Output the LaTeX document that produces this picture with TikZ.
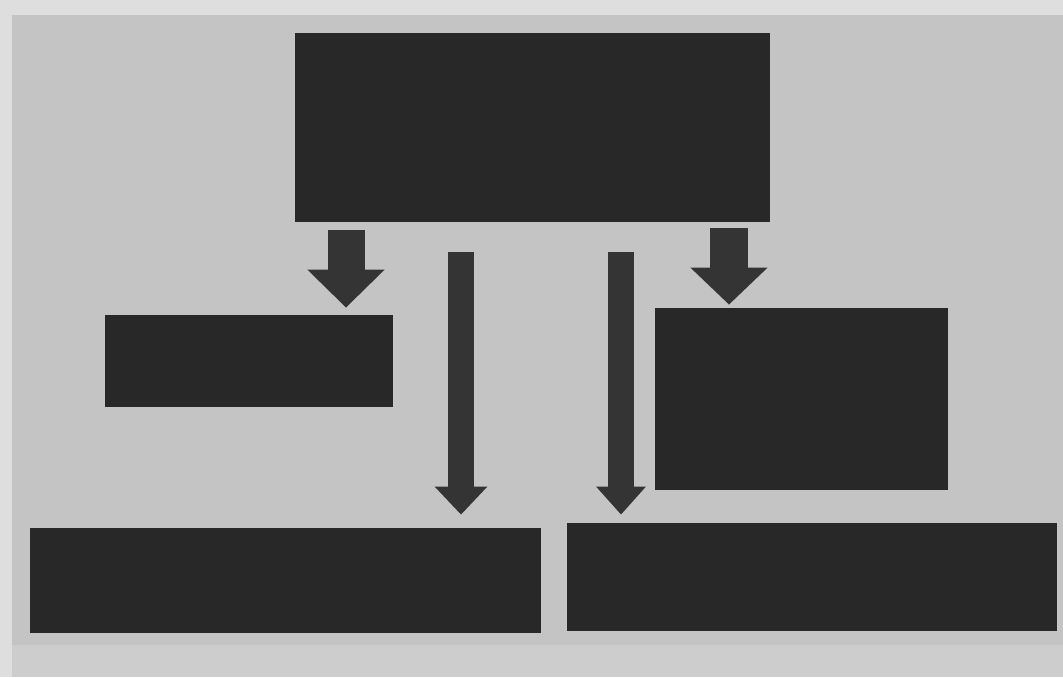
\documentclass[tikz,border=0pt]{standalone}
\usetikzlibrary{arrows.meta}
\definecolor{bg}{RGB}{196,196,196}
\definecolor{bgedge}{RGB}{222,222,222}
\definecolor{bglow}{RGB}{205,205,205}
\definecolor{boxc}{RGB}{40,40,40}
\definecolor{arrc}{RGB}{52,52,52}
\tikzset{
  darkbox/.style={rectangle, fill=boxc, draw=none, inner sep=0pt},
  barrow/.style n args={3}{draw=arrc, line width=#1, -{Triangle[width=#2,length=#3]}, arrc}
}
\begin{document}
\begin{tikzpicture}[x=0.5pt,y=-0.5pt]
\useasboundingbox (0,0) rectangle (1063,677);
\fill[bgedge] (0,0) rectangle (1063,677);
\fill[bglow] (12,640) rectangle (1063,677);
\fill[bg] (12,15) rectangle (1063,645);
% boxes
\node[darkbox, minimum width=237.5pt, minimum height=94.5pt] (top) at (532.5,127.5) {};
\node[darkbox, minimum width=144pt, minimum height=46pt] (lm) at (249,361) {};
\node[darkbox, minimum width=146.5pt, minimum height=91pt] (rm) at (801.5,399) {};
\node[darkbox, minimum width=255.5pt, minimum height=52.5pt] (bl) at (285.5,580.5) {};
\node[darkbox, minimum width=245pt, minimum height=54pt] (br) at (812,577) {};
% arrow x positions
\coordinate (a1) at (346,0);
\coordinate (a2) at (461,0);
\coordinate (a3) at (621,0);
\coordinate (a4) at (729,0);
\draw[barrow={18.5pt}{37.5pt}{19pt}, shorten <=4pt, shorten >=3.5pt] (top.south -| a1) -- (lm.north -| a1);
\draw[barrow={13pt}{25.5pt}{14pt}, shorten <=15pt, shorten >=6.5pt] (top.south -| a2) -- (bl.north -| a2);
\draw[barrow={13pt}{24pt}{14pt}, shorten <=15pt, shorten >=4pt] (top.south -| a3) -- (br.north -| a3);
\draw[barrow={19pt}{37.5pt}{18.5pt}, shorten <=3pt, shorten >=1.5pt] (top.south -| a4) -- (rm.north -| a4);
\end{tikzpicture}
\end{document}
